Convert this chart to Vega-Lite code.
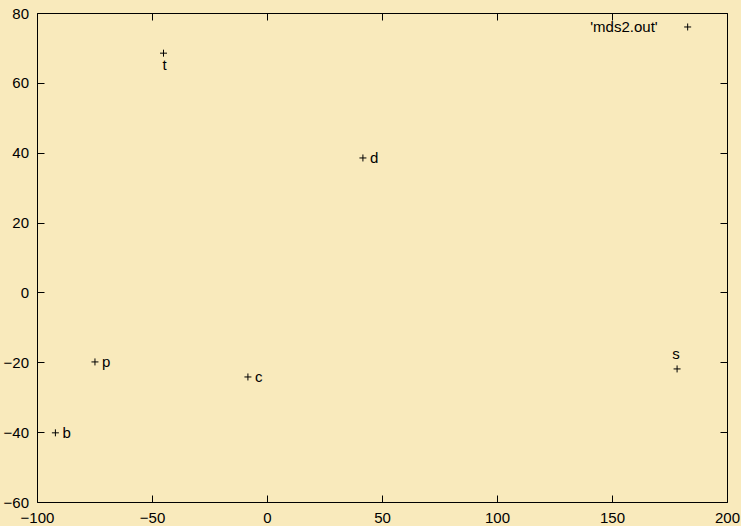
{
  "$schema": "https://vega.github.io/schema/vega-lite/v6.json",
  "width": 690,
  "height": 489,
  "autosize": {"type": "none"},
  "padding": {"left": 37, "top": 13, "right": 14, "bottom": 24},
  "background": "#f9eabc",
  "config": {
    "view": {"stroke": "black", "strokeWidth": 1, "fill": "#f9eabc"},
    "axis": {"domain": false, "grid": false, "tickColor": "black", "tickSize": -7, "tickWidth": 1, "labelFont": "Liberation Sans", "labelFontSize": 15, "labelColor": "black", "title": null, "labelPadding": 15.5, "labelFlush": false, "labelOverlap": false},
    "text": {"font": "Liberation Sans", "fontSize": 15, "color": "black"}
  },
  "datasets": {
    "points": [
      {"x": -45.0, "y": 68.5, "label": "t"},
      {"x": 41.7, "y": 38.5, "label": "d"},
      {"x": -74.8, "y": -19.9, "label": "p"},
      {"x": -8.3, "y": -24.2, "label": "c"},
      {"x": -92.0, "y": -40.2, "label": "b"},
      {"x": 178.3, "y": -21.9, "label": "s"}
    ],
    "key": [
      {"x": 182.9, "y": 76.0, "label": "'mds2.out'"}
    ]
  },
  "layer": [
    {
      "data": {"name": "points"},
      "mark": {"type": "point", "shape": "M-1,0H1M0,-1V1", "size": 49, "stroke": "black", "strokeWidth": 1, "filled": false, "opacity": 1},
      "encoding": {
        "x": {"field": "x", "type": "quantitative", "scale": {"domain": [-100, 200], "nice": false, "zero": false}, "axis": {"orient": "bottom", "values": [-100, -50, 0, 50, 100, 150, 200]}},
        "y": {"field": "y", "type": "quantitative", "scale": {"domain": [-60, 80], "nice": false, "zero": false}, "axis": {"orient": "left", "values": [-60, -40, -20, 0, 20, 40, 60, 80]}}
      }
    },
    {
      "data": {"name": "points"},
      "transform": [{"filter": {"field": "label", "oneOf": ["d", "p", "c", "b"]}}],
      "mark": {"type": "text", "align": "left", "baseline": "middle", "dx": 7},
      "encoding": {
        "x": {"field": "x", "type": "quantitative", "axis": null},
        "y": {"field": "y", "type": "quantitative", "axis": null},
        "text": {"field": "label"}
      }
    },
    {
      "data": {"name": "points"},
      "transform": [{"filter": {"field": "label", "equal": "t"}}],
      "mark": {"type": "text", "align": "center", "baseline": "middle", "dy": 12, "dx": 1},
      "encoding": {
        "x": {"field": "x", "type": "quantitative", "axis": null},
        "y": {"field": "y", "type": "quantitative", "axis": null},
        "text": {"field": "label"}
      }
    },
    {
      "data": {"name": "points"},
      "transform": [{"filter": {"field": "label", "equal": "s"}}],
      "mark": {"type": "text", "align": "center", "baseline": "middle", "dy": -14.5, "dx": -1},
      "encoding": {
        "x": {"field": "x", "type": "quantitative", "axis": null},
        "y": {"field": "y", "type": "quantitative", "axis": null},
        "text": {"field": "label"}
      }
    },
    {
      "data": {"name": "key"},
      "mark": {"type": "text", "align": "right", "baseline": "middle", "dx": -30},
      "encoding": {
        "x": {"field": "x", "type": "quantitative", "axis": null},
        "y": {"field": "y", "type": "quantitative", "axis": null},
        "text": {"field": "label"}
      }
    },
    {
      "data": {"name": "key"},
      "mark": {"type": "point", "shape": "M-1,0H1M0,-1V1", "size": 49, "stroke": "black", "strokeWidth": 1, "filled": false, "opacity": 1},
      "encoding": {
        "x": {"field": "x", "type": "quantitative", "axis": {"orient": "top", "values": [-100, -50, 0, 50, 100, 150, 200], "labels": false}},
        "y": {"field": "y", "type": "quantitative", "axis": {"orient": "right", "values": [-60, -40, -20, 0, 20, 40, 60, 80], "labels": false}}
      }
    }
  ],
  "resolve": {"axis": {"x": "independent", "y": "independent"}}
}
